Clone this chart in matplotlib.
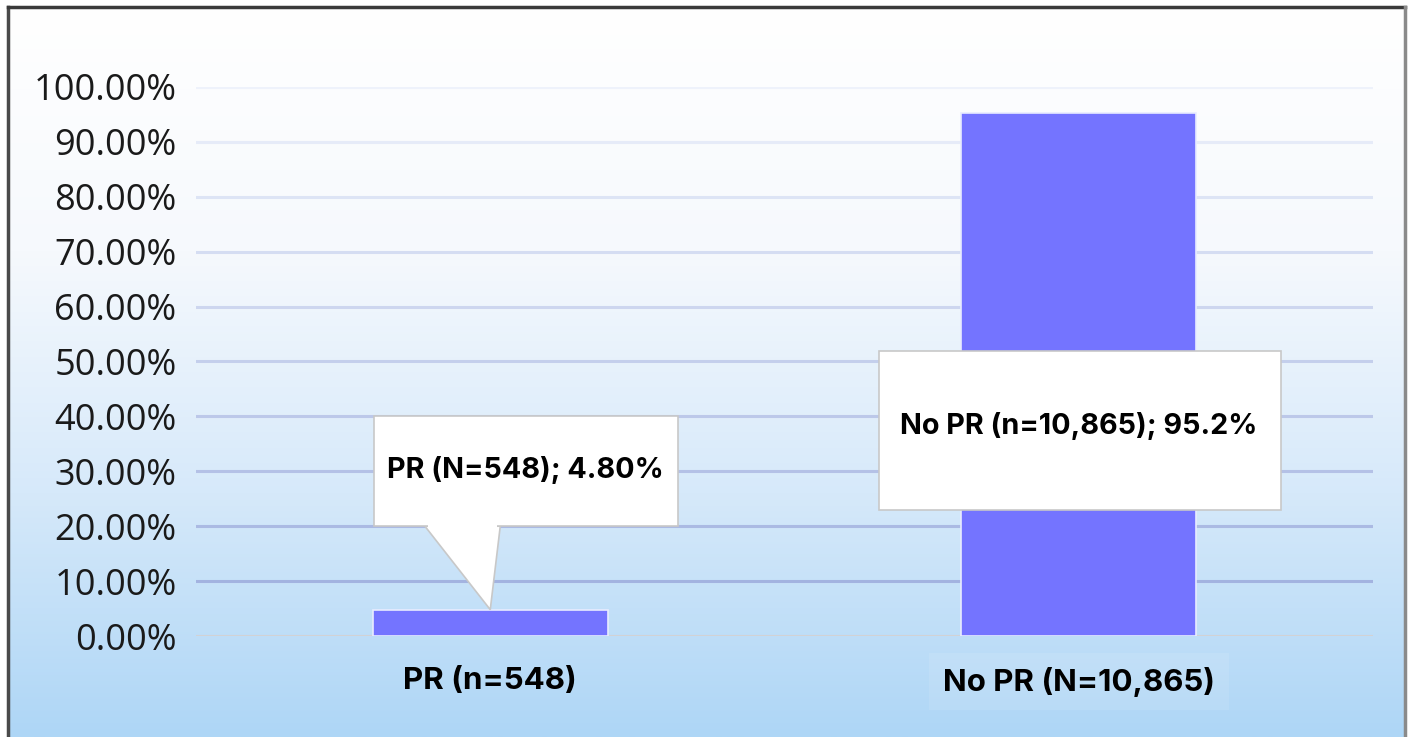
import numpy as np
import matplotlib.pyplot as plt
from matplotlib.colors import LinearSegmentedColormap, to_rgb
from matplotlib.patches import Rectangle, Polygon

categories = ["PR (n=548)", "No PR (N=10,865)"]
shares = [4.80, 95.2]
callouts = ["PR (N=548); 4.80%", "No PR (n=10,865); 95.2%"]
yticks = [0, 10, 20, 30, 40, 50, 60, 70, 80, 90, 100]

W, H, DPI = 1408, 737, 100
fig = plt.figure(figsize=(W / DPI, H / DPI), dpi=DPI)
fig.patch.set_facecolor("white")

# gradient backdrop inside the frame
bg = fig.add_axes([7 / W, 0, 1398 / W, 1 - 7 / H], zorder=-10)
grad = LinearSegmentedColormap.from_list("bg", ["#ffffff", "#f6f9fd", "#d6e9fa", "#aed6f6"])
bg.imshow(np.linspace(0, 1, 256).reshape(-1, 1), aspect="auto", cmap=grad,
          extent=[0, 1, 0, 1], origin="upper")
bg.axis("off")

# frame: left/top dark, right grey, bottom cut off
fig.add_artist(plt.Line2D([8 / W, 8 / W], [0, 1 - 7 / H], color="#4a4a4a", lw=2.5))
fig.add_artist(plt.Line2D([8 / W, 1405 / W], [1 - 7 / H, 1 - 7 / H], color="#3a3a3a", lw=2.5))
fig.add_artist(plt.Line2D([1405 / W, 1405 / W], [0, 1 - 7 / H], color="#8a8a8a", lw=2.5))

x0, x1 = 196, 1373
y0, y1 = 636, 87
ax = fig.add_axes([x0 / W, 1 - y0 / H, (x1 - x0) / W, (y0 - y1) / H])
ax.patch.set_alpha(0)
ax.set_xlim(-0.5, 1.5)
ax.set_ylim(0, 100)

# gridlines fade out toward the top
lo, hi = np.array(to_rgb("#a3b3e0")), np.array(to_rgb("#eef2fb"))
for t in yticks[1:]:
    f = (t - 10) / 90
    ax.axhline(t, color=lo * (1 - f) + hi * f, lw=2.2, zorder=0)
ax.axhline(0, color="#d2d2d4", lw=2.2, zorder=0)

x = np.arange(len(categories))
ax.bar(x, shares, width=0.4, color="#7474ff", edgecolor="#e8ecff", lw=1.2, zorder=2)

ax.set_yticks(yticks)
ax.set_yticklabels([f"{t:.2f}%" for t in yticks], fontsize=26, family="Open Sans", color="#1a1a1a")
ax.set_xticks(x)
ax.set_xticklabels(categories, fontsize=22.5, family="Inter", fontweight="bold")
ax.get_xticklabels()[1].set_bbox(dict(facecolor="white", alpha=0.1, edgecolor="none", pad=10))
ax.get_xticklabels()[1].set_x(0.99)
ax.tick_params(length=0)
ax.tick_params(axis="y", pad=14)
ax.tick_params(axis="x", pad=22)
for s in ax.spines.values():
    s.set_visible(False)

# callout for PR with pointer to bar top
ax.add_patch(Polygon([[-0.111, 20], [0.017, 20], [0, shares[0]]], closed=True,
                     facecolor="white", edgecolor="#c8c8c8", lw=1.2, zorder=3))
ax.add_patch(Rectangle((-0.197, 20), 0.516, 20, facecolor="white", edgecolor="#c8c8c8",
                       lw=1.2, zorder=3))
ax.add_patch(Rectangle((-0.105, 19.4), 0.116, 1.2, facecolor="white", edgecolor="none", zorder=4))
ax.text(0.06, 30.2, callouts[0], ha="center", va="center", fontsize=20.7,
        family="Inter", fontweight="bold", zorder=5)

# callout for No PR
ax.add_patch(Rectangle((0.66, 23), 0.683, 29, facecolor="white", edgecolor="#c8c8c8",
                       lw=1.2, zorder=3))
ax.text(1.0, 38.3, callouts[1], ha="center", va="center", fontsize=20.7,
        family="Inter", fontweight="bold", zorder=5)

fig.savefig("out.png", dpi=DPI)
